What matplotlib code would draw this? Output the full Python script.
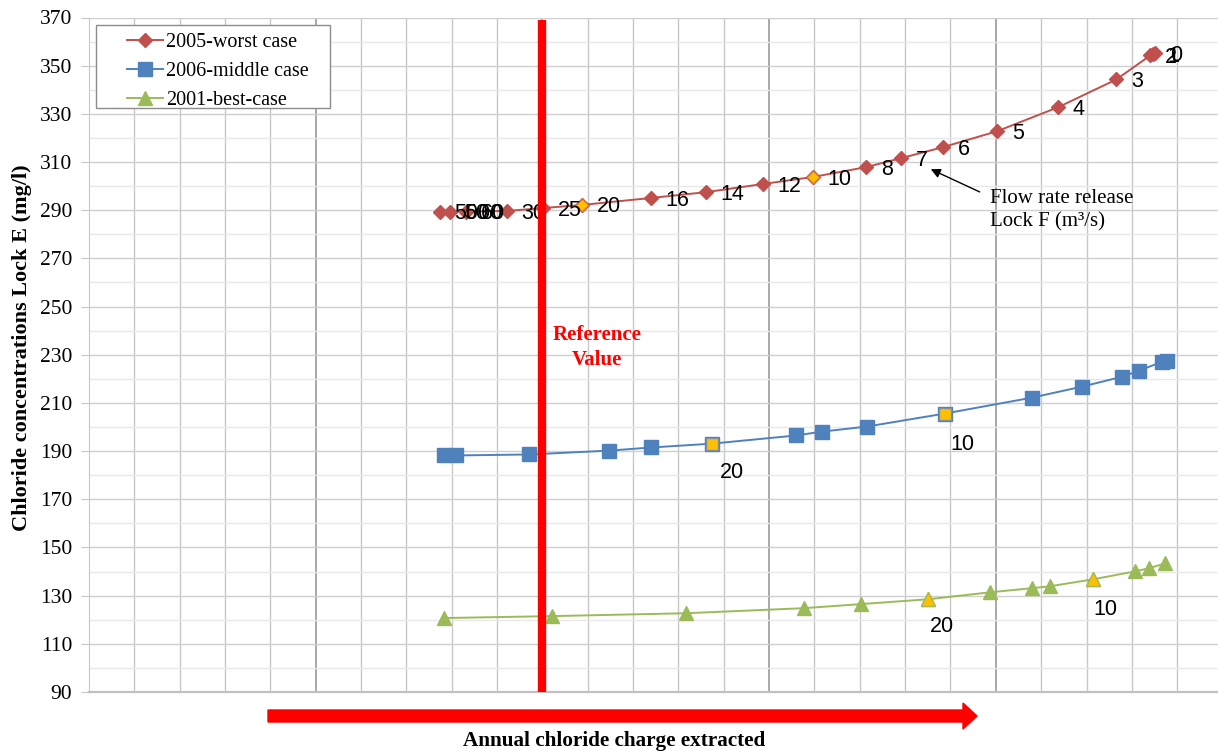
import numpy as np
import matplotlib
matplotlib.use("Agg")
import matplotlib.pyplot as plt
from matplotlib.patches import FancyArrow, Rectangle
from matplotlib.lines import Line2D

# ---- data ----
x_worst = [7.74, 7.96, 8.32, 9.22, 10.02, 10.88, 12.40, 13.61, 14.87, 15.97, 17.14,
           17.91, 18.84, 20.03, 21.38, 22.66, 23.41, 23.47, 23.52]
y_worst = [289.3, 289.3, 289.4, 289.7, 290.9, 292.2, 295.1, 297.5, 300.9, 303.8, 307.9,
           311.6, 316.2, 322.8, 332.8, 344.3, 354.3, 354.8, 355.2]
lab_worst = ["5000", "50", "60", "30", "25", "20", "16", "14", "12", "10", "8",
             "7", "6", "5", "4", "3", "2", "1", "0"]
hi_worst = [5, 9]

x_middle = [7.83, 8.10, 9.71, 11.47, 12.40, 13.74, 15.60, 16.17, 17.16, 18.88, 20.80,
            21.91, 22.79, 23.16, 23.67, 23.78]
y_middle = [188.2, 188.2, 188.6, 190.2, 191.5, 193.1, 196.5, 198.1, 200.2, 205.6, 212.2,
            216.8, 220.9, 223.4, 227.1, 227.5]
hi_middle = [5, 9]
lab_middle = ["20", "10"]

x_best = [7.83, 10.21, 13.17, 15.77, 17.03, 18.51, 19.88, 20.80, 21.20, 22.15, 23.08,
          23.38, 23.74]
y_best = [120.7, 121.5, 122.7, 124.8, 126.5, 128.5, 131.4, 133.1, 133.9, 136.8, 140.1,
          141.4, 143.4]
hi_best = [5, 9]
lab_best = ["20", "10"]

series_names = ["2005-worst case", "2006-middle case", "2001-best-case"]
ref_x = 10.0

red = "#C0504D"
blue = "#4F81BD"
green = "#9BBB59"
yellow = "#FFC000"
serif = "Liberation Serif"
sans = "Liberation Sans"

fig = plt.figure(figsize=(12.18, 7.51), dpi=100)
ax = fig.add_axes([89 / 1218, 59 / 751, 1 - 89 / 1218, 674.5 / 751])
ax.set_xlim(0, 24.9)
ax.set_ylim(90, 370)

# grid
ax.set_xticks(np.arange(0, 25, 5))
ax.set_xticks(np.arange(0, 25, 1), minor=True)
ax.set_yticks(np.arange(90, 371, 20))
ax.set_yticks(np.arange(100, 371, 20), minor=True)
ax.grid(True, which="minor", axis="x", color="#c8c8c8", lw=1.0)
ax.grid(True, which="major", axis="x", color="#9a9a9a", lw=1.2)
ax.grid(True, which="major", axis="y", color="#cfcfcf", lw=1.0)
ax.grid(True, which="minor", axis="y", color="#e8e8e8", lw=1.0)
ax.set_axisbelow(True)
ax.tick_params(axis="x", which="both", length=0, labelbottom=False)
ax.tick_params(axis="y", which="major", length=6, color="#c8c8c8", pad=6)
ax.tick_params(axis="y", which="minor", length=0)
for lbl in ax.get_yticklabels():
    lbl.set_fontfamily(serif)
    lbl.set_fontsize(15.5)
for s in ["top", "right"]:
    ax.spines[s].set_visible(False)
ax.spines["left"].set_color("#c8c8c8")
ax.spines["bottom"].set_color("#c0c0c0")
ax.spines["bottom"].set_linewidth(1.6)

# series
ax.plot(x_worst, y_worst, color=red, lw=1.4, marker="D", ms=7.5, mfc=red, mec=red, zorder=3)
ax.plot(x_middle, y_middle, color=blue, lw=1.4, marker="s", ms=9.5, mfc=blue, mec=blue, zorder=3)
ax.plot(x_best, y_best, color=green, lw=1.4, marker="^", ms=10, mfc=green, mec=green, zorder=3)

ax.plot([x_worst[i] for i in hi_worst], [y_worst[i] for i in hi_worst], ls="none",
        marker="D", ms=6.5, mfc=yellow, mec="#E08A2C", mew=0.8, zorder=4)
ax.plot([x_middle[i] for i in hi_middle], [y_middle[i] for i in hi_middle], ls="none",
        marker="s", ms=8, mfc=yellow, mec="#7F8FA6", mew=1.0, zorder=4)
ax.plot([x_best[i] for i in hi_best], [y_best[i] for i in hi_best], ls="none",
        marker="^", ms=9.5, mfc=yellow, mec="#A6B85A", mew=1.0, zorder=4)

# data labels
for xv, yv, t in zip(x_worst, y_worst, lab_worst):
    ax.annotate(t, (xv, yv), xytext=(10.5, -1.5), textcoords="offset points",
                ha="left", va="center", fontsize=15.5, family=sans, zorder=5)
for i, t, off in zip(hi_middle, lab_middle, [(5.5, -21), (3.5, -22)]):
    ax.annotate(t, (x_middle[i], y_middle[i]), xytext=off, textcoords="offset points",
                ha="left", va="center", fontsize=15.5, family=sans, zorder=5)
for i, t, off in zip(hi_best, lab_best, [(1.5, -19.5), (0, -21.5)]):
    ax.annotate(t, (x_best[i], y_best[i]), xytext=off, textcoords="offset points",
                ha="left", va="center", fontsize=15.5, family=sans, zorder=5)

# reference line
ax.plot([ref_x, ref_x], [90, 369], color="#FF0000", lw=6, solid_capstyle="butt", zorder=6)
ax.text(11.2, 233, "Reference\nValue", color="#FF0000", fontsize=15, family=serif,
        fontweight="bold", ha="center", va="center", linespacing=1.3, zorder=6)

# flow rate annotation
ax.annotate("", xy=(18.51, 307.5), xytext=(19.70, 297.1),
            arrowprops=dict(arrowstyle="-|>", color="black", lw=1.0, mutation_scale=14))
ax.text(19.87, 299.0, "Flow rate release\nLock F (m³/s)", fontsize=15, family=serif,
        ha="left", va="top", linespacing=1.35)

# legend: frame drawn separately so the handles sit indented like the reference
handles = [
    Line2D([], [], color=red, lw=1.4, marker="D", ms=7.5, mfc=red, mec=red),
    Line2D([], [], color=blue, lw=1.4, marker="s", ms=9.5, mfc=blue, mec=blue),
    Line2D([], [], color=green, lw=1.4, marker="^", ms=10, mfc=green, mec=green),
]
fig.legend(handles, series_names, loc="upper left",
           bbox_to_anchor=(118 / 1218, 1 - 24 / 751),
           prop={"family": serif, "size": 14.5}, frameon=False, handlelength=1.8,
           handletextpad=0.15, labelspacing=0.5, borderpad=0.45, borderaxespad=0)
fig.patches.append(Rectangle((96 / 1218, 1 - 108 / 751), 234 / 1218, 83 / 751,
                             transform=fig.transFigure, facecolor="white",
                             edgecolor="#8c8c8c", lw=1.0, zorder=0.5))

# axis labels
fig.text(22 / 1218, 1 - 348 / 751, "Chloride concentrations Lock E (mg/l)", rotation=90,
         fontsize=16, family=serif, fontweight="bold", ha="center", va="center")
fig.text(614 / 1218, 1 - 741 / 751, "Annual chloride charge extracted", fontsize=15.2,
         family=serif, fontweight="bold", ha="center", va="center")

# big red arrow under the axis
arr = FancyArrow(2.68, 0.35, 9.77 - 2.68, 0, width=0.12, head_width=0.26, head_length=0.14,
                 length_includes_head=True, color="#FF0000", transform=fig.dpi_scale_trans)
fig.patches.append(arr)

fig.savefig("out.png", dpi=100)
